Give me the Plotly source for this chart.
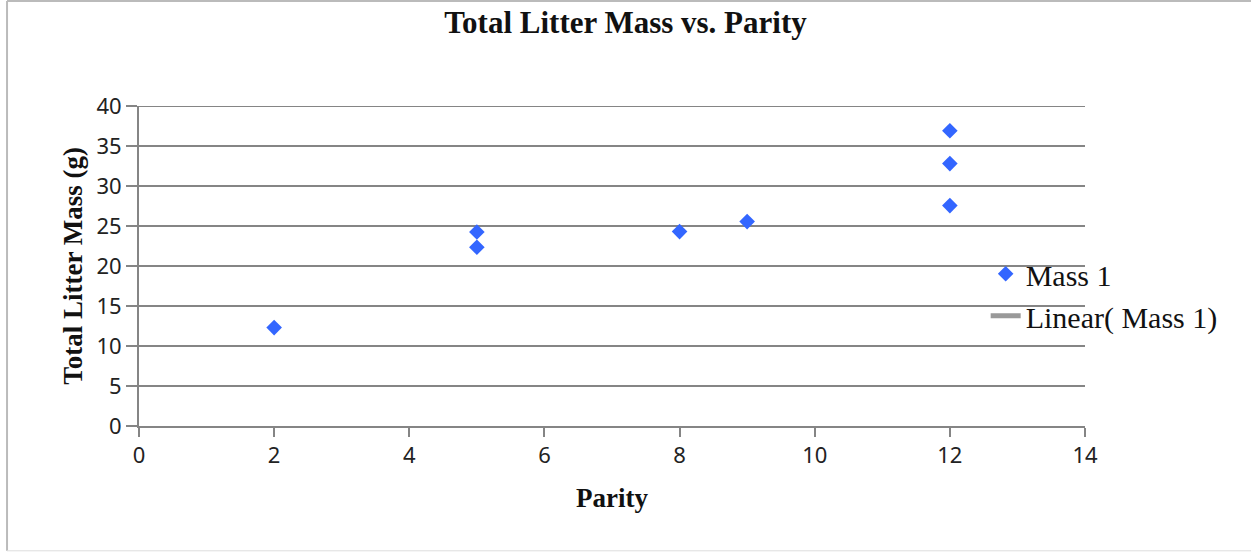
import plotly.graph_objects as go

parity = [2, 5, 5, 8, 9, 12, 12, 12]
mass = [12.3, 24.25, 22.35, 24.3, 25.55, 36.9, 32.8, 27.55]
x_ticks = [0, 2, 4, 6, 8, 10, 12, 14]
y_ticks = [0, 5, 10, 15, 20, 25, 30, 35, 40]

serif = "Liberation Serif"
sans = "Noto Sans"

fig = go.Figure()
fig.add_trace(go.Scatter(
    x=parity, y=mass, mode="markers", name="Mass 1",
    marker=dict(symbol="diamond", size=12, color="#3366FF"),
))
fig.add_trace(go.Scatter(
    x=[None], y=[None], mode="lines", name="Linear( Mass 1)",
    line=dict(color="#999999", width=2),
))

grid = "#858585"
fig.update_layout(
    width=1251, height=553,
    margin=dict(l=139, r=166, t=106, b=127),
    paper_bgcolor="white", plot_bgcolor="white",
    title=dict(text="<b>Total Litter Mass vs. Parity</b>", x=0.5, xanchor="center",
               y=1 - 22 / 553, yanchor="middle",
               font=dict(family=serif, size=31, color="#111111")),
    xaxis=dict(range=[0, 14], tickvals=x_ticks, showgrid=False, zeroline=False,
               showline=True, linecolor=grid, linewidth=2,
               ticks="outside", ticklen=9, tickwidth=2, tickcolor=grid,
               tickfont=dict(family=sans, size=22, color="#222222"),
               title=dict(text="<b>Parity</b>", standoff=20,
                          font=dict(family=serif, size=27, color="#111111"))),
    yaxis=dict(range=[0, 40], tickvals=y_ticks, showgrid=True, gridcolor=grid, gridwidth=2,
               zeroline=False, showline=True, linecolor=grid, linewidth=2,
               ticks="outside", ticklen=11, tickwidth=2, tickcolor=grid,
               tickfont=dict(family=sans, size=22, color="#222222"),
               title=dict(text="<b>Total Litter Mass (g)</b>", standoff=6,
                          font=dict(family=serif, size=27, color="#111111"))),
    legend=dict(x=0.895, xanchor="left", y=0.41, yanchor="middle",
                bgcolor="rgba(0,0,0,0)",
                font=dict(family=serif, size=30, color="#111111"),
                itemsizing="constant", tracegroupgap=0),
    showlegend=True,
    shapes=[
        dict(type="line", xref="paper", yref="y", x0=0, x1=1, y0=y_ticks[-1], y1=y_ticks[-1],
             line=dict(color=grid, width=2), layer="below"),
        dict(type="line", xref="paper", yref="paper", x0=-0.1395, x1=-0.1395, y0=-0.39, y1=1.328,
             line=dict(color="#bbbbbb", width=2)),
        dict(type="line", xref="paper", yref="paper", x0=-0.1395, x1=1.18, y0=1.328, y1=1.328,
             line=dict(color="#bbbbbb", width=2)),
        dict(type="line", xref="paper", yref="paper", x0=-0.1395, x1=1.18, y0=-0.39, y1=-0.39,
             line=dict(color="#dddddd", width=1)),
    ],
)

fig.write_html("out.html")
